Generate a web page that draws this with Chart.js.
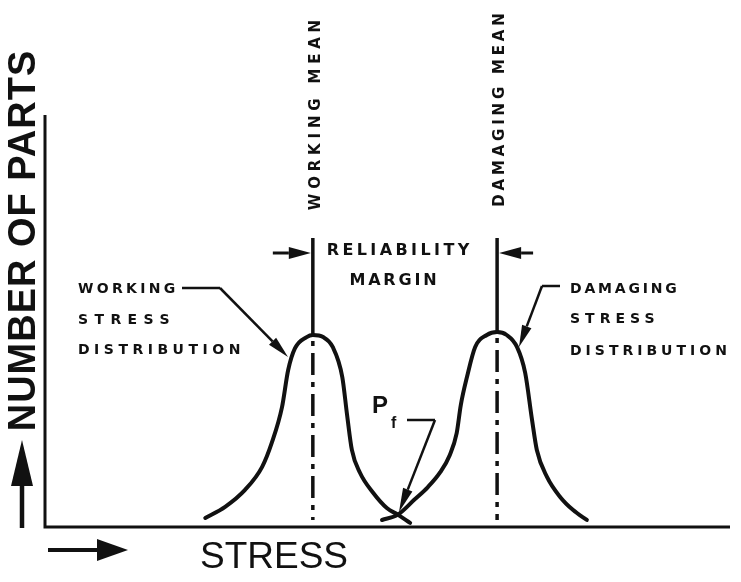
<!DOCTYPE html>
<html>
<head>
<meta charset="utf-8">
<script src="https://cdn.jsdelivr.net/npm/chart.js@4"></script>
<style>
  html, body { margin: 0; padding: 0; background: #fff; }
  #wrap { width: 741px; height: 582px; position: relative; }
</style>
</head>
<body>
<div id="wrap"><canvas id="stressChart"></canvas></div>
<script>
// stress (x) and number of parts (y)
const workingStress = [23.4, 26.3, 29.2, 31.7, 33.1, 34.6, 35.5, 36.5, 38.2, 39.1, 40.6, 42.0, 43.4, 44.1, 44.8, 46.0, 47.9, 49.9, 51.5, 53.3];
const workingCount  = [2.2, 4.9, 9.0, 14.6, 20.4, 29.1, 38.1, 43.4, 46.1, 46.6, 46.1, 43.7, 36.4, 27.2, 18.7, 13.1, 8.3, 4.6, 3.0, 1.0];
const damagingStress = [49.2, 51.5, 53.9, 55.9, 57.7, 59.1, 60.1, 60.7, 61.6, 62.8, 64.5, 66.0, 67.4, 68.9, 70.1, 71.1, 71.8, 73.3, 75.2, 77.1, 79.1];
const damagingCount  = [1.7, 3.0, 6.6, 9.7, 13.3, 17.5, 22.8, 29.6, 36.4, 43.7, 46.6, 47.3, 46.6, 43.7, 37.4, 26.0, 18.7, 12.1, 7.3, 4.1, 1.7];
const meanStress = [39.1, 66.0];   // working mean, damaging mean
const meanPeak = [46.6, 47.3];
const meanLabels = ['WORKING MEAN', 'DAMAGING MEAN'];
const axisTitles = ['STRESS', 'NUMBER OF PARTS'];

const INK = '#111';
const FONT = "'Liberation Sans', Arial, sans-serif";
const LABEL_FONT = "'DejaVu Sans', sans-serif";

function toPoints(xs, ys) {
    return xs.map((x, i) => ({ x: x, y: ys[i] }));
}

function spacedText(ctx, text, x, y, ls, align) {
    ctx.letterSpacing = ls + 'px';
    const w = ctx.measureText(text).width - ls;
    let sx = x;
    if (align === 'center') sx = x - w / 2;
    ctx.textAlign = 'left';
    ctx.fillText(text, sx, y);
    ctx.letterSpacing = '0px';
}

function arrow(ctx, x1, y1, x2, y2, headLen, headW, lw) {
    const a = Math.atan2(y2 - y1, x2 - x1);
    const bx = x2 - Math.cos(a) * headLen, by = y2 - Math.sin(a) * headLen;
    ctx.lineWidth = lw;
    ctx.beginPath();
    ctx.moveTo(x1, y1);
    ctx.lineTo(bx, by);
    ctx.stroke();
    ctx.beginPath();
    ctx.moveTo(x2, y2);
    ctx.lineTo(bx - Math.sin(a) * headW / 2, by + Math.cos(a) * headW / 2);
    ctx.lineTo(bx + Math.sin(a) * headW / 2, by - Math.cos(a) * headW / 2);
    ctx.closePath();
    ctx.fill();
}

const diagramPlugin = {
    id: 'diagram',
    afterDraw(chart) {
        const ctx = chart.ctx;
        const xs = chart.scales.x, ys = chart.scales.y;
        const area = chart.chartArea;
        ctx.save();
        ctx.strokeStyle = INK;
        ctx.fillStyle = INK;
        ctx.lineCap = 'butt';

        // axes
        ctx.lineWidth = 3;
        ctx.beginPath();
        ctx.moveTo(area.left, area.top);
        ctx.lineTo(area.left, area.bottom);
        ctx.lineTo(area.right, area.bottom);
        ctx.stroke();

        // mean lines: solid above the peak, dash-dot below
        meanStress.forEach((m, i) => {
            const px = xs.getPixelForValue(m);
            const peakY = ys.getPixelForValue(meanPeak[i]);
            ctx.lineWidth = 3.5;
            ctx.setLineDash([]);
            ctx.beginPath();
            ctx.moveTo(px, 238);
            ctx.lineTo(px, peakY);
            ctx.stroke();
            ctx.setLineDash([5, 7, 22, 7]);
            ctx.beginPath();
            ctx.moveTo(px, peakY + 6);
            ctx.lineTo(px, area.bottom - 7);
            ctx.stroke();
            ctx.setLineDash([]);

            // vertical label
            ctx.save();
            ctx.translate(px + 7, i === 0 ? 115 : 110);
            ctx.rotate(-Math.PI / 2);
            ctx.font = 'bold 15px ' + LABEL_FONT;
            ctx.textBaseline = 'alphabetic';
            spacedText(ctx, meanLabels[i], 0, 0, i === 0 ? 4.8 : 3.8, 'center');
            ctx.restore();
        });

        // reliability margin arrows
        const wx = xs.getPixelForValue(meanStress[0]);
        const dx = xs.getPixelForValue(meanStress[1]);
        arrow(ctx, wx - 40, 253, wx - 2, 253, 22, 12, 3);
        arrow(ctx, dx + 36, 253, dx + 2, 253, 22, 12, 3);

        ctx.textBaseline = 'alphabetic';
        ctx.font = 'bold 16px ' + LABEL_FONT;
        spacedText(ctx, 'RELIABILITY', 398, 255, 3.4, 'center');
        spacedText(ctx, 'MARGIN', 393, 285, 2.8, 'center');

        // distribution labels
        ctx.font = 'bold 14px ' + LABEL_FONT;
        spacedText(ctx, 'WORKING', 78, 293, 3.3, 'left');
        spacedText(ctx, 'STRESS', 78, 324, 6.4, 'left');
        spacedText(ctx, 'DISTRIBUTION', 78, 354, 4.5, 'left');
        spacedText(ctx, 'DAMAGING', 570, 293, 2.8, 'left');
        spacedText(ctx, 'STRESS', 570, 323, 5.0, 'left');
        spacedText(ctx, 'DISTRIBUTION', 570, 355, 4.0, 'left');

        // leaders
        ctx.lineWidth = 2.5;
        ctx.beginPath();
        ctx.moveTo(182, 288);
        ctx.lineTo(220, 288);
        ctx.stroke();
        arrow(ctx, 220, 288, 288, 357, 22, 10, 2.5);

        ctx.beginPath();
        ctx.moveTo(560, 286);
        ctx.lineTo(542, 286);
        ctx.stroke();
        arrow(ctx, 542, 286, 519, 347, 22, 10, 2.5);

        // Pf
        ctx.font = 'bold 24px ' + FONT;
        ctx.fillText('P', 372, 413);
        ctx.font = 'bold 16px ' + FONT;
        ctx.fillText('f', 391, 428);
        ctx.beginPath();
        ctx.moveTo(407, 420);
        ctx.lineTo(435, 420);
        ctx.stroke();
        arrow(ctx, 435, 420, 399, 512, 24, 10, 2.5);

        // axis titles
        ctx.font = '37px ' + FONT;
        ctx.textAlign = 'left';
        ctx.fillText(axisTitles[0], 200, 568);
        arrow(ctx, 48, 550, 128, 550, 31, 22, 4);

        ctx.save();
        ctx.translate(35, 241);
        ctx.rotate(-Math.PI / 2);
        ctx.font = 'bold 38px ' + FONT;
        spacedText(ctx, axisTitles[1], 0, 0, 1, 'center');
        ctx.restore();
        arrow(ctx, 22, 528, 22, 440, 46, 22, 4.5);

        ctx.restore();
    }
};

const curveStyle = {
    showLine: true,
    borderColor: INK,
    borderWidth: 4,
    pointRadius: 0,
    cubicInterpolationMode: 'monotone',
    borderCapStyle: 'round',
    clip: false
};

new Chart(document.getElementById('stressChart'), {
    type: 'scatter',
    data: {
        datasets: [
            Object.assign({ label: 'Working stress distribution', data: toPoints(workingStress, workingCount) }, curveStyle),
            Object.assign({ label: 'Damaging stress distribution', data: toPoints(damagingStress, damagingCount) }, curveStyle)
        ]
    },
    options: {
        responsive: true,
        maintainAspectRatio: false,
        animation: false,
        devicePixelRatio: 1,
        layout: { padding: { left: 45, right: 11, top: 115, bottom: 55 } },
        plugins: { legend: { display: false }, tooltip: { enabled: false } },
        scales: {
            x: { type: 'linear', min: 0, max: 100, display: false },
            y: { type: 'linear', min: 0, max: 100, display: false }
        }
    },
    plugins: [diagramPlugin]
});
</script>
</body>
</html>
